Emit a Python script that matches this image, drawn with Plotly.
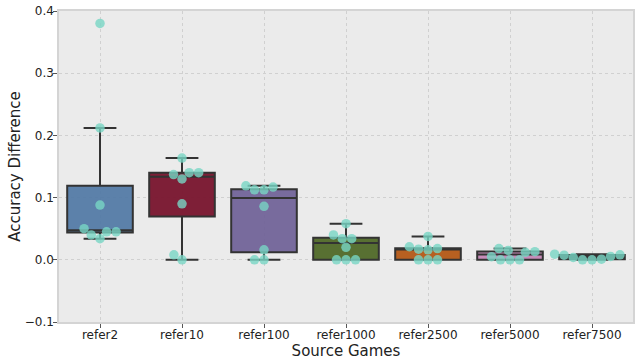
import numpy as np
import plotly.graph_objects as go

categories = ["refer2", "refer10", "refer100", "refer1000", "refer2500", "refer5000", "refer7500"]

refer2 = [0.380, 0.212, 0.088, 0.050, 0.045, 0.045, 0.040, 0.034]
refer10 = [0.1635, 0.140, 0.140, 0.137, 0.130, 0.090, 0.008, 0.0]
refer100 = [0.119, 0.117, 0.1125, 0.1125, 0.086, 0.016, 0.0, 0.0]
refer1000 = [0.058, 0.040, 0.034, 0.034, 0.020, 0.0, 0.0, 0.0]
refer2500 = [0.0375, 0.021, 0.018, 0.017, 0.016, 0.0, 0.0, 0.0]
refer5000 = [0.018, 0.015, 0.013, 0.012, 0.005, 0.0, 0.0, 0.0]
refer7500 = [0.009, 0.008, 0.0075, 0.0054, 0.0037, 0.001, 0.0, 0.0]

series = [refer2, refer10, refer100, refer1000, refer2500, refer5000, refer7500]

box_colors = ["rgba(76,118,163,0.9)", "rgba(120,20,45,0.95)", "rgba(110,95,150,0.92)",
              "rgba(80,105,40,0.95)", "rgba(180,88,22,0.95)", "rgba(195,130,180,0.92)",
              "rgba(60,60,60,0.9)"]
dot_color = "rgba(120,214,196,0.8)"

Y_MIN, Y_MAX = -0.1, 0.4
tick_vals_y = [-0.1, 0.0, 0.1, 0.2, 0.3, 0.4]

# pixel scales of the plot area (for swarm layout)
PLOT_W, PLOT_H = 574, 311
px_per_x = PLOT_W / 7.0
px_per_y = PLOT_H / (Y_MAX - Y_MIN)
DIAM = 9.5


def swarm_offsets(vals):
    order = np.argsort(vals)
    placed = []  # (xpx, ypx)
    offs = np.zeros(len(vals))
    for i in order:
        y = vals[i] * px_per_y
        cands = [0.0]
        for (px, py) in placed:
            dy = abs(py - y)
            if dy < DIAM:
                dx = np.sqrt(DIAM ** 2 - dy ** 2)
                cands += [px + dx, px - dx]
        cands = sorted(cands, key=lambda c: (abs(c), c))
        for c in cands:
            ok = all((c - px) ** 2 + (y - py) ** 2 >= DIAM ** 2 - 1e-6 for (px, py) in placed)
            if ok:
                placed.append((c, y))
                offs[i] = c / px_per_x
                break
    return offs


fig = go.Figure()
for k, (cat, vals) in enumerate(zip(categories, series)):
    v = np.array(vals, dtype=float)
    q1, med, q3 = np.percentile(v, [25, 50, 75])
    iqr = q3 - q1
    lo = v[v >= q1 - 1.5 * iqr].min()
    hi = v[v <= q3 + 1.5 * iqr].max()
    fig.add_trace(go.Box(
        x=[k], q1=[q1], median=[med], q3=[q3], lowerfence=[lo], upperfence=[hi],
        width=0.8, whiskerwidth=0.5, boxpoints=False,
        fillcolor=box_colors[k], line=dict(color="#333333", width=2),
        showlegend=False, hoverinfo="skip"))

for k, vals in enumerate(series):
    v = np.array(vals, dtype=float)
    offs = swarm_offsets(v)
    fig.add_trace(go.Scatter(
        x=k + offs, y=v, mode="markers",
        marker=dict(color=dot_color, size=DIAM, line=dict(width=0)),
        showlegend=False, hoverinfo="skip"))

axis_common = dict(
    showgrid=True, gridcolor="#d0d0d0", griddash="dot", gridwidth=1,
    showline=True, linecolor="#d4d4d4", linewidth=1.5, mirror=True,
    ticks="outside", ticklen=4, tickcolor="#555555", tickwidth=1,
    zeroline=False, automargin=False, ticklabelstandoff=-3,
    tickfont=dict(family="DejaVu Sans", size=12, color="#222222"),
)

fig.update_layout(
    width=640, height=363,
    margin=dict(l=59, r=7, t=11, b=41),
    paper_bgcolor="white", plot_bgcolor="#ebebeb",
    boxmode="overlay",
    font=dict(family="DejaVu Sans", color="#222222"),
    xaxis=dict(**axis_common, range=[-0.5, 6.5], tickvals=list(range(len(categories))),
               ticktext=categories,
               title=dict(text="Source Games", font=dict(size=15), standoff=0)),
    yaxis=dict(**axis_common, range=[Y_MIN, Y_MAX], tickvals=tick_vals_y,
               tickformat=".1f",
               title=dict(text="Accuracy Difference", font=dict(size=15), standoff=0)),
)

fig.write_html("out.html", config={"displayModeBar": False},
               post_script="document.body.style.margin='0';document.body.style.overflow='hidden';")
